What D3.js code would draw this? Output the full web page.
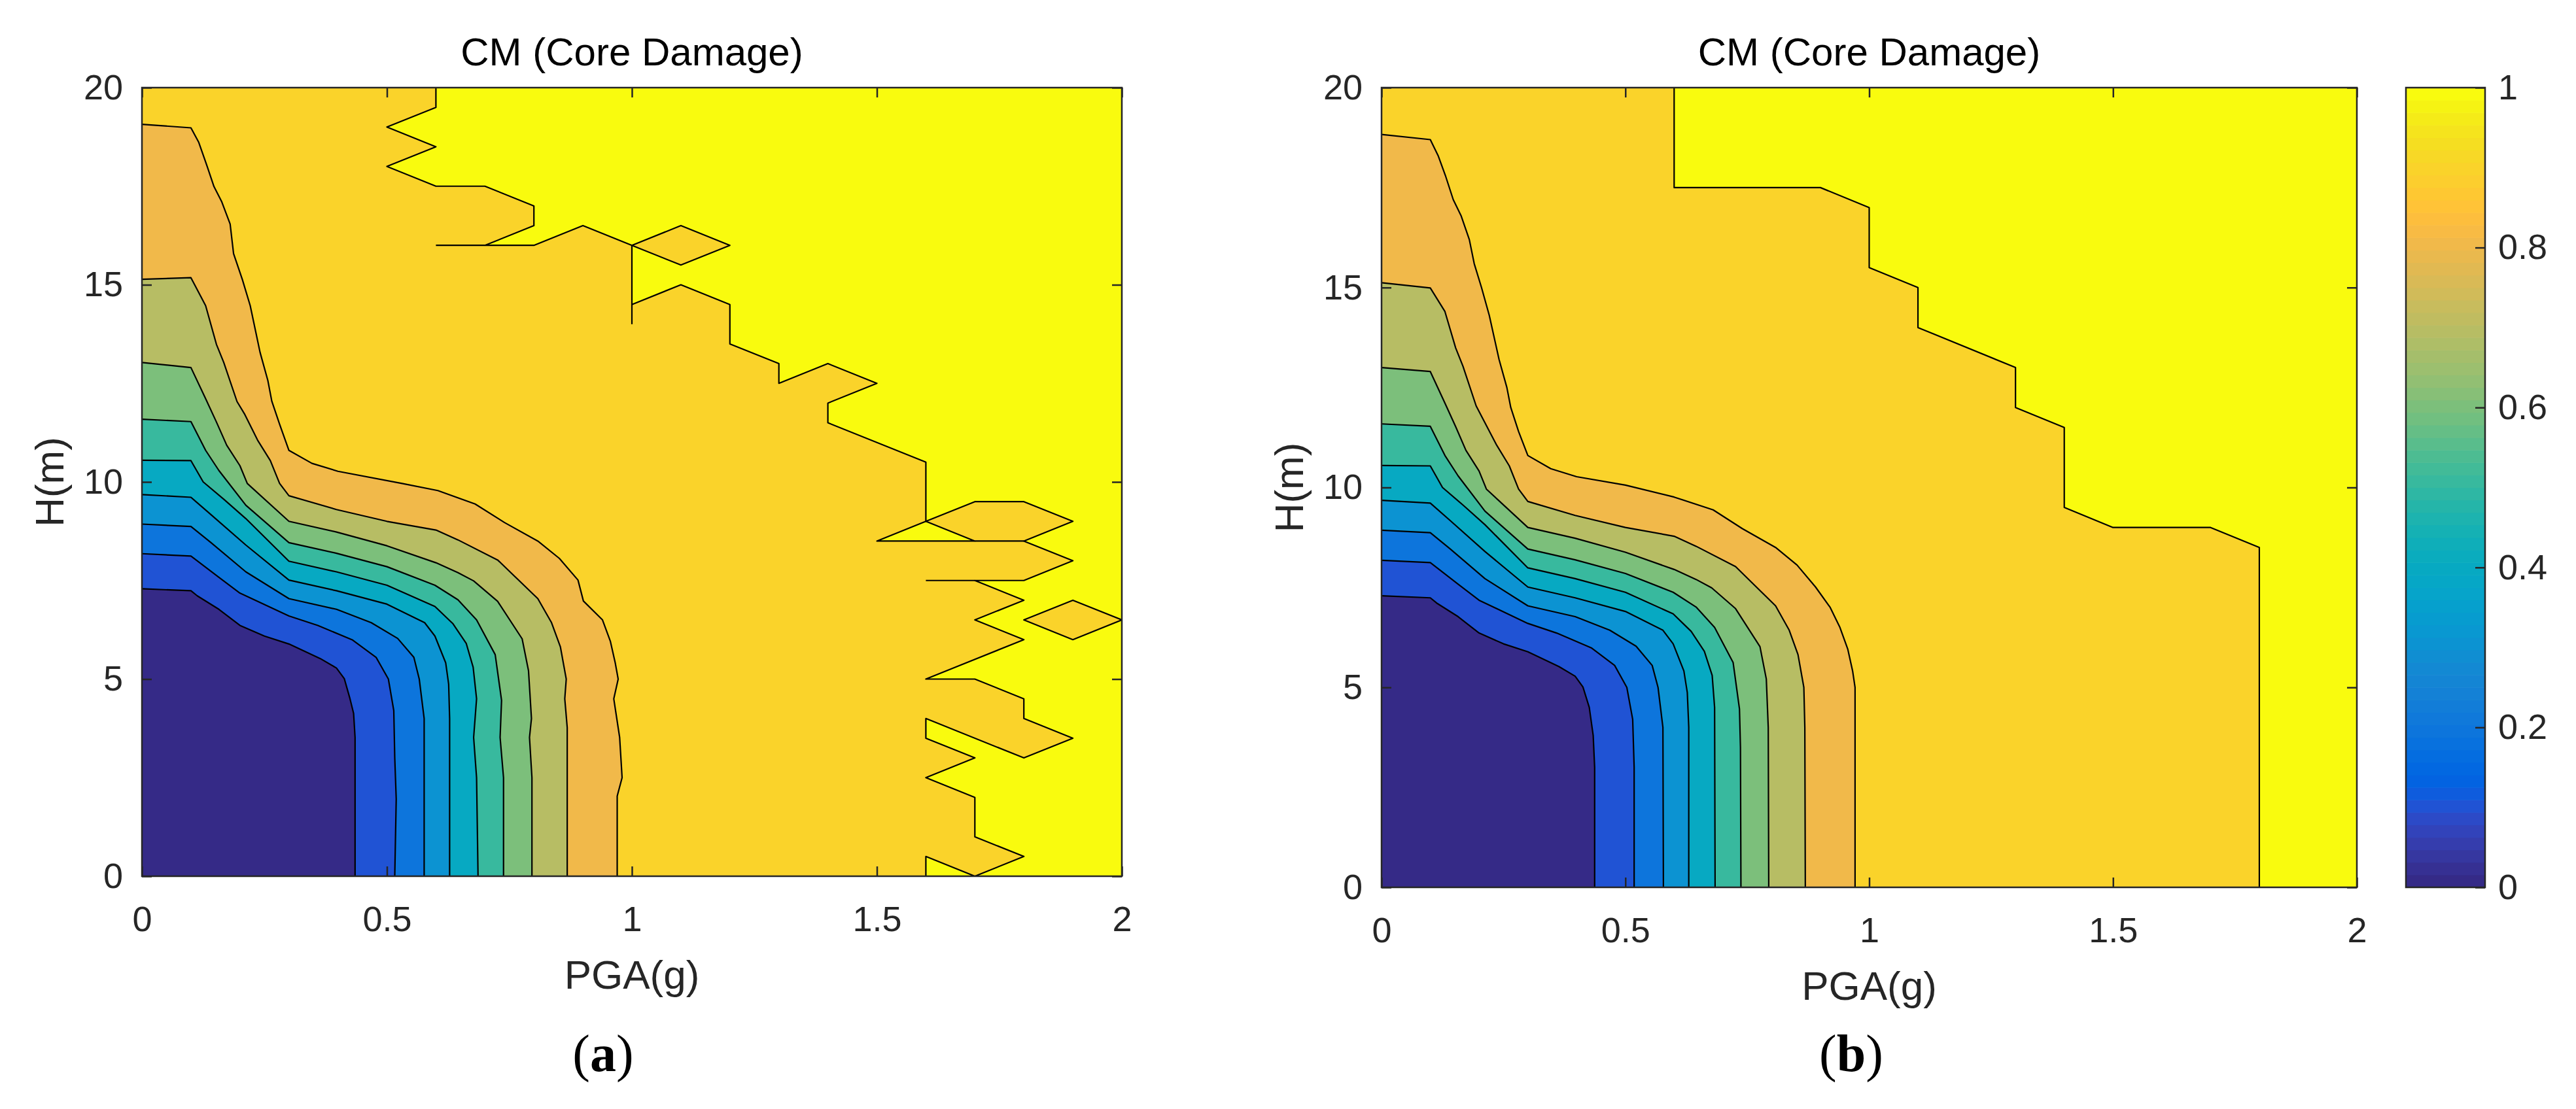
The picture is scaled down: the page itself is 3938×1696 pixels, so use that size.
<!DOCTYPE html>
<html>
<head>
<meta charset="utf-8">
<script src="https://cdn.jsdelivr.net/npm/d3@7"></script>
<style>
  body { margin: 0; background: #fff; }
</style>
</head>
<body>
<svg id="fig"></svg>
<script>
// ---- axis ticks / levels ----
const pgaTicks = [0, 0.5, 1, 1.5, 2];
const hTicks = [0, 5, 10, 15, 20];
const cbTicks = [0, 0.2, 0.4, 0.6, 0.8, 1];
const levels = [0.1, 0.2, 0.3, 0.4, 0.5, 0.6, 0.7, 0.8, 0.9];

// ---- (a) contour lines, [PGA, H] ----
const a01 = [[0,7.29],[0.1,7.24],[0.113,7.11],[0.157,6.77],[0.2,6.36],[0.25,6.09],[0.3,5.89],[0.364,5.52],[0.397,5.28],[0.413,5.01],[0.424,4.53],[0.432,4.13],[0.435,3.52],[0.435,0]];
const a02 = [[0,8.18],[0.1,8.12],[0.157,7.58],[0.2,7.18],[0.3,6.6],[0.359,6.36],[0.43,5.99],[0.478,5.55],[0.503,5.0],[0.514,4.2],[0.516,3.0],[0.519,1.96],[0.516,0]];
const a03 = [[0,8.93],[0.1,8.87],[0.141,8.46],[0.212,7.72],[0.3,7.04],[0.397,6.77],[0.468,6.43],[0.522,6.03],[0.555,5.55],[0.566,5.0],[0.576,4.0],[0.576,0]];
const a04 = [[0,9.68],[0.1,9.61],[0.141,9.17],[0.212,8.4],[0.3,7.51],[0.397,7.24],[0.5,6.9],[0.577,6.43],[0.598,6.09],[0.62,5.41],[0.626,4.87],[0.628,4.0],[0.628,0]];
const a05 = [[0,10.55],[0.1,10.54],[0.125,10.0],[0.168,9.55],[0.212,9.07],[0.3,7.99],[0.397,7.72],[0.5,7.38],[0.598,6.84],[0.635,6.4],[0.662,5.9],[0.676,5.3],[0.683,4.5],[0.677,3.52],[0.683,2.5],[0.686,0]];
const a06 = [[0,11.59],[0.1,11.53],[0.13,10.8],[0.157,10.29],[0.212,9.41],[0.3,8.46],[0.397,8.19],[0.5,7.85],[0.598,7.38],[0.645,7.01],[0.683,6.5],[0.721,5.62],[0.734,4.46],[0.731,3.52],[0.738,2.5],[0.738,0]];
const a07 = [[0,13.03],[0.1,12.9],[0.13,12.11],[0.152,11.52],[0.173,10.93],[0.2,10.41],[0.215,9.96],[0.3,9.0],[0.397,8.73],[0.5,8.38],[0.6,7.95],[0.645,7.7],[0.677,7.49],[0.726,6.97],[0.776,6.02],[0.789,5.21],[0.795,4.0],[0.791,3.52],[0.796,2.5],[0.796,0]];
const a08 = [[0,15.14],[0.1,15.18],[0.116,14.8],[0.13,14.47],[0.152,13.49],[0.167,13.03],[0.194,12.04],[0.21,11.71],[0.236,11.06],[0.262,10.54],[0.281,9.96],[0.3,9.65],[0.397,9.3],[0.5,9.0],[0.6,8.78],[0.645,8.53],[0.726,8.02],[0.808,7.04],[0.836,6.43],[0.854,5.82],[0.866,5.0],[0.863,4.5],[0.868,3.77],[0.868,0]];
const a09 = [[0,19.07],[0.1,18.98],[0.116,18.61],[0.131,18.08],[0.147,17.49],[0.163,17.1],[0.18,16.54],[0.187,15.79],[0.205,15.13],[0.221,14.47],[0.241,13.29],[0.257,12.57],[0.265,12.05],[0.281,11.46],[0.3,10.8],[0.347,10.47],[0.4,10.27],[0.531,9.96],[0.604,9.78],[0.68,9.44],[0.74,8.97],[0.808,8.5],[0.852,8.06],[0.89,7.51],[0.901,6.98],[0.94,6.5],[0.956,5.96],[0.966,5.41],[0.972,5.0],[0.963,4.5],[0.975,3.52],[0.98,2.5],[0.97,2.03],[0.97,0]];
// level 1 (a): main border, gold pockets, yellow pockets, loose segments
const a10 = [[0.6,20],[0.6,19.5],[0.5,19],[0.6,18.5],[0.5,18],[0.6,17.5],[0.7,17.5],[0.8,17],[0.8,16.5],[0.7,16],[0.8,16],[0.9,16.5],[1.0,16],[1.0,14.5],[1.1,15],[1.2,14.5],[1.2,13.5],[1.3,13],[1.3,12.5],[1.4,13],[1.5,12.5],[1.4,12],[1.4,11.5],[1.6,10.5],[1.6,9],[1.7,9.5],[1.8,9.5],[1.9,9],[1.8,8.5],[1.9,8],[1.8,7.5],[1.7,7.5],[1.8,7],[1.7,6.5],[1.8,6],[1.6,5],[1.7,5],[1.8,4.5],[1.8,4],[1.9,3.5],[1.8,3],[1.6,4],[1.6,3.5],[1.7,3],[1.6,2.5],[1.7,2],[1.7,1],[1.8,0.5],[1.7,0]];
const a10Gold = [[[1.0,16],[1.1,16.5],[1.2,16],[1.1,15.5]], [[1.8,6.5],[1.9,7],[2.0,6.5],[1.9,6]]];
const a10Yellow = [[[1.6,9],[1.5,8.5],[1.7,8.5]], [[1.6,0.5],[1.6,0],[1.7,0]]];
const a10Stubs = [[[0.6,16],[0.7,16]], [[1.0,14.5],[1.0,14]], [[1.7,8.5],[1.8,8.5]], [[1.6,7.5],[1.7,7.5]]];

// ---- (b) contour lines ----
const b01 = [[0,7.29],[0.1,7.24],[0.113,7.11],[0.157,6.77],[0.2,6.36],[0.25,6.09],[0.3,5.89],[0.364,5.52],[0.397,5.28],[0.413,5.01],[0.426,4.5],[0.434,3.8],[0.437,3],[0.437,0]];
const b02 = [[0,8.18],[0.1,8.12],[0.157,7.58],[0.2,7.18],[0.3,6.6],[0.359,6.36],[0.43,5.99],[0.478,5.55],[0.503,5.0],[0.515,4.2],[0.518,3],[0.518,0]];
const b03 = [[0,8.93],[0.1,8.87],[0.141,8.46],[0.212,7.72],[0.3,7.04],[0.397,6.77],[0.468,6.43],[0.522,6.03],[0.555,5.55],[0.567,5.0],[0.577,4.0],[0.578,0]];
const b04 = [[0,9.68],[0.1,9.61],[0.141,9.17],[0.212,8.4],[0.3,7.51],[0.397,7.24],[0.5,6.9],[0.577,6.43],[0.598,6.09],[0.62,5.41],[0.627,4.87],[0.63,4.0],[0.63,0]];
const b05 = [[0,10.55],[0.1,10.54],[0.125,10.0],[0.168,9.55],[0.212,9.07],[0.3,7.99],[0.397,7.72],[0.5,7.38],[0.598,6.84],[0.635,6.4],[0.662,5.9],[0.678,5.3],[0.683,4.5],[0.684,0]];
const b06 = [[0,11.59],[0.1,11.53],[0.13,10.8],[0.157,10.29],[0.212,9.41],[0.3,8.46],[0.397,8.19],[0.5,7.85],[0.598,7.38],[0.645,7.01],[0.683,6.5],[0.721,5.62],[0.734,4.46],[0.736,3.5],[0.737,0]];
const b07 = [[0,13.0],[0.1,12.9],[0.13,12.11],[0.152,11.52],[0.173,10.93],[0.2,10.41],[0.215,9.96],[0.3,9.0],[0.397,8.73],[0.5,8.38],[0.6,7.95],[0.645,7.7],[0.677,7.49],[0.726,6.97],[0.776,6.02],[0.789,5.21],[0.793,4.0],[0.794,0]];
const b08 = [[0,15.12],[0.1,14.99],[0.13,14.4],[0.152,13.49],[0.167,13.03],[0.194,12.04],[0.236,11.06],[0.262,10.54],[0.281,9.96],[0.3,9.65],[0.397,9.3],[0.5,9.0],[0.6,8.78],[0.645,8.53],[0.726,8.02],[0.808,7.04],[0.836,6.43],[0.854,5.82],[0.866,5.0],[0.868,4.0],[0.869,0]];
const b09 = [[0,18.83],[0.1,18.7],[0.116,18.3],[0.131,17.8],[0.147,17.2],[0.163,16.8],[0.18,16.2],[0.19,15.6],[0.205,15.0],[0.221,14.3],[0.241,13.2],[0.257,12.5],[0.265,12.0],[0.281,11.4],[0.3,10.8],[0.347,10.47],[0.4,10.27],[0.5,10.06],[0.6,9.76],[0.68,9.44],[0.74,8.97],[0.808,8.5],[0.852,8.06],[0.89,7.51],[0.92,7.0],[0.94,6.5],[0.956,5.96],[0.966,5.41],[0.971,5.0],[0.971,0]];
const b10 = [[0.6,20],[0.6,17.5],[0.9,17.5],[1.0,17],[1.0,15.5],[1.1,15],[1.1,14],[1.3,13],[1.3,12],[1.4,11.5],[1.4,9.5],[1.5,9],[1.7,9],[1.8,8.5],[1.8,0]];

// parula, 64 entries
const parula = ["#352a87","#363093","#3637a0","#353dad","#3243ba","#2c4ac7","#2053d4","#0f5cdd","#0363e1","#0268e1","#046de0","#0871de","#0d75dc","#1079da","#127dd8","#1481d6","#1485d4","#1389d3","#108ed2","#0c93d2","#0998d1","#079ccf","#06a0cd","#06a4ca","#06a7c6","#07a9c2","#0aacbe","#0faeb9","#15b1b4","#1db3af","#25b5a9","#2eb7a4","#38b99e","#42bb98","#4dbc92","#59bd8c","#65be86","#71bf80","#7cbf7b","#87bf77","#92bf73","#9cbf6f","#a5be6b","#aebe67","#b7bd64","#c0bc60","#c8bc5d","#d1bb59","#d9ba56","#e1b952","#e9b94e","#f1b94a","#f8bb44","#fdbe3d","#ffc337","#fec832","#fcce2e","#fad32a","#f7d826","#f5de21","#f5e41d","#f5eb18","#f6f313","#f9fb0e"];
const bandColor = v => parula[Math.min(63, Math.floor(v * 64 + 1e-9))];

const W = 3938, H = 1696;
const sans = "'Liberation Sans', Arial, Helvetica, sans-serif";
const ink = "#262626";
const svg = d3.select("#fig").attr("width", W).attr("height", H);

// close a contour line (left/top edge -> bottom edge) along the upper-right corners
function closeRegion(pts) {
  const out = pts.slice();
  out.push([2, 0], [2, 20]);
  if (pts[0][1] < 20) out.push([0, 20]);
  return out;
}

function drawPanel(cfg) {
  const x = d3.scaleLinear().domain([0, 2]).range([cfg.left, cfg.right]);
  const y = d3.scaleLinear().domain([0, 20]).range([cfg.bottom, cfg.top]);
  const line = d3.line().x(d => x(d[0])).y(d => y(d[1]));

  svg.append("clipPath").attr("id", "clip" + cfg.id)
    .append("rect")
    .attr("x", cfg.left).attr("y", cfg.top)
    .attr("width", cfg.right - cfg.left).attr("height", cfg.bottom - cfg.top);

  const plot = svg.append("g").attr("clip-path", `url(#clip${cfg.id})`);

  plot.append("rect")
    .attr("x", cfg.left).attr("y", cfg.top)
    .attr("width", cfg.right - cfg.left).attr("height", cfg.bottom - cfg.top)
    .attr("fill", bandColor(0));

  cfg.contours.forEach((pts, i) => {
    plot.append("path").attr("d", line(closeRegion(pts)) + "Z").attr("fill", bandColor(levels[i]));
  });
  plot.append("path").attr("d", line(closeRegion(cfg.top1)) + "Z").attr("fill", bandColor(1));
  (cfg.gold || []).forEach(p => plot.append("path").attr("d", line(p) + "Z").attr("fill", bandColor(0.9)));
  (cfg.yellow || []).forEach(p => plot.append("path").attr("d", line(p) + "Z").attr("fill", bandColor(1)));

  // black contour lines
  const strokes = plot.append("g").attr("fill", "none").attr("stroke", "#000")
    .attr("stroke-width", 2.2).attr("stroke-linejoin", "round");
  cfg.contours.concat([cfg.top1], cfg.stubs || []).forEach(pts => strokes.append("path").attr("d", line(pts)));
  (cfg.gold || []).concat(cfg.yellow || []).forEach(p => strokes.append("path").attr("d", line(p) + "Z"));

  // axes, ticks inside on all four sides
  const fmt = d3.format("~g");
  const styleAxis = g => {
    g.select(".domain").remove();
    g.selectAll(".tick line").attr("stroke", ink).attr("stroke-width", 2.5);
    g.selectAll("text").attr("font-family", sans).attr("font-size", 54).attr("fill", ink);
  };
  svg.append("g").attr("transform", `translate(0,${cfg.bottom})`)
    .call(d3.axisBottom(x).tickValues(pgaTicks).tickSizeInner(-15).tickSizeOuter(0).tickPadding(46).tickFormat(fmt))
    .call(styleAxis);
  svg.append("g").attr("transform", `translate(0,${cfg.top})`)
    .call(d3.axisTop(x).tickValues(pgaTicks).tickSizeInner(-15).tickSizeOuter(0).tickFormat(""))
    .call(styleAxis);
  svg.append("g").attr("transform", `translate(${cfg.left},0)`)
    .call(d3.axisLeft(y).tickValues(hTicks).tickSizeInner(-15).tickSizeOuter(0).tickPadding(29).tickFormat(fmt))
    .call(styleAxis);
  svg.append("g").attr("transform", `translate(${cfg.right},0)`)
    .call(d3.axisRight(y).tickValues(hTicks).tickSizeInner(-15).tickSizeOuter(0).tickFormat(""))
    .call(styleAxis);

  svg.append("rect")
    .attr("x", cfg.left).attr("y", cfg.top)
    .attr("width", cfg.right - cfg.left).attr("height", cfg.bottom - cfg.top)
    .attr("fill", "none").attr("stroke", ink).attr("stroke-width", 2.5);

  const cx = (cfg.left + cfg.right) / 2;
  svg.append("text").attr("x", cx).attr("y", 100).attr("text-anchor", "middle")
    .attr("font-family", sans).attr("font-size", 60).attr("fill", "#000")
    .text("CM (Core Damage)");
  svg.append("text").attr("x", cx).attr("y", cfg.bottom + 172).attr("text-anchor", "middle")
    .attr("font-family", sans).attr("font-size", 62).attr("fill", ink)
    .text("PGA(g)");
  svg.append("text")
    .attr("transform", `translate(${cfg.left - 120},${(cfg.top + cfg.bottom) / 2}) rotate(-90)`)
    .attr("text-anchor", "middle")
    .attr("font-family", sans).attr("font-size", 62).attr("fill", ink)
    .text("H(m)");

  const cap = svg.append("text").attr("x", cfg.capX).attr("y", 1638).attr("text-anchor", "middle")
    .attr("font-family", "'Liberation Serif', 'Times New Roman', serif").attr("font-size", 80).attr("fill", "#000");
  cap.append("tspan").text("(");
  cap.append("tspan").attr("font-weight", "bold").text(cfg.caption);
  cap.append("tspan").text(")");
  return y;
}

drawPanel({
  id: "a", left: 217, right: 1715, top: 134, bottom: 1340, capX: 922, caption: "a",
  contours: [a01, a02, a03, a04, a05, a06, a07, a08, a09],
  top1: a10, gold: a10Gold, yellow: a10Yellow, stubs: a10Stubs
});

const yb = drawPanel({
  id: "b", left: 2112, right: 3603, top: 134, bottom: 1357, capX: 2830, caption: "b",
  contours: [b01, b02, b03, b04, b05, b06, b07, b08, b09],
  top1: b10
});

// ---- colorbar ----
const cbLeft = 3678, cbRight = 3799;
const cbY = d3.scaleLinear().domain([0, 1]).range(yb.range());
svg.append("g").selectAll("rect")
  .data(parula)
  .join("rect")
  .attr("x", cbLeft).attr("width", cbRight - cbLeft)
  .attr("y", (d, i) => cbY((i + 1) / parula.length))
  .attr("height", (d, i) => cbY(i / parula.length) - cbY((i + 1) / parula.length) + 0.6)
  .attr("fill", d => d);
svg.append("g").attr("transform", `translate(${cbRight},0)`)
  .call(d3.axisRight(cbY).tickValues(cbTicks).tickSizeInner(-15).tickSizeOuter(0).tickPadding(20).tickFormat(d3.format("~g")))
  .call(g => {
    g.select(".domain").remove();
    g.selectAll(".tick line").attr("stroke", ink).attr("stroke-width", 2.5);
    g.selectAll("text").attr("font-family", sans).attr("font-size", 54).attr("fill", ink);
  });
svg.append("rect")
  .attr("x", cbLeft).attr("y", cbY(1))
  .attr("width", cbRight - cbLeft).attr("height", cbY(0) - cbY(1))
  .attr("fill", "none").attr("stroke", ink).attr("stroke-width", 2.5);
</script>
</body>
</html>
